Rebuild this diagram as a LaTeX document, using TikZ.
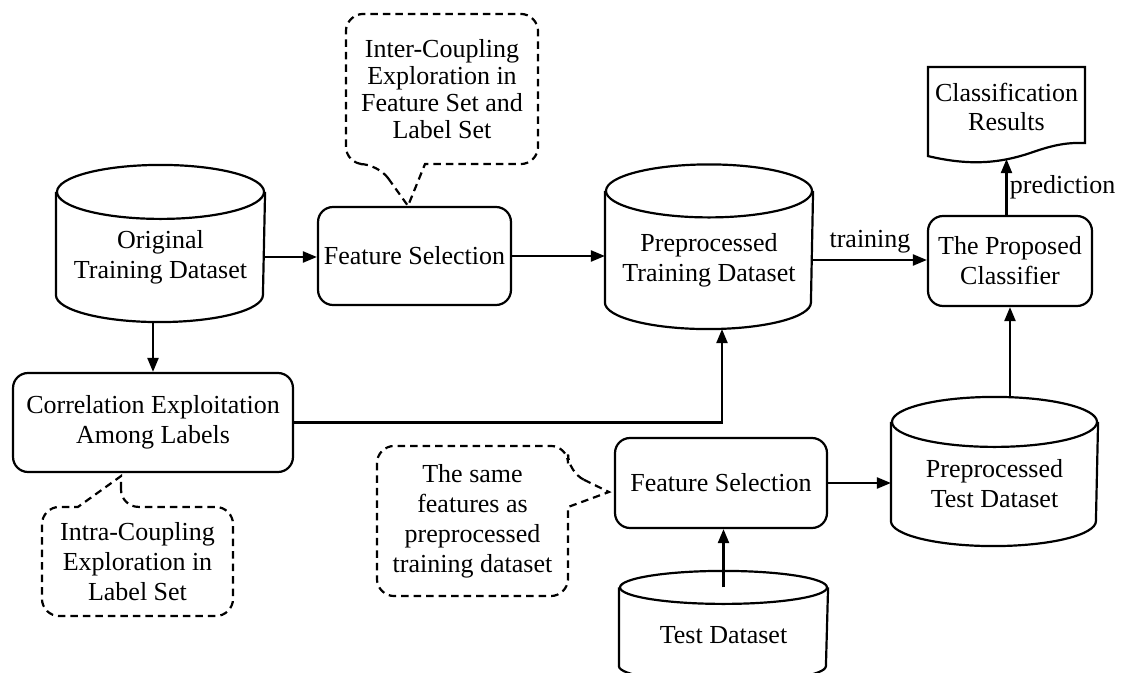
\documentclass[tikz,border=0pt]{standalone}
\usepackage{fontspec}
\setmainfont{Liberation Serif}
\usetikzlibrary{arrows.meta,calc}

% cylinder around a named node: name, x radius, y radius
\newcommand{\dbcyl}[3]{%
  \draw (#1.north west) -- ($(#1.south west)+(0,#3)$)
    arc[start angle=180,end angle=360,x radius=#2,y radius=#3]
    -- (#1.north east);
  \draw (#1.north) ellipse[x radius=#2,y radius=#3];
}

\begin{document}
\begin{tikzpicture}[x=0.02cm,y=0.02cm,line width=1.25pt,
  every node/.style={font=\fontsize{14.8}{17}\selectfont},
  box/.style={draw,rounded corners=0.3cm,align=center},
  db/.style={align=center},
  note/.style={align=center},
  bubble/.style={dash pattern=on 0.15cm off 0.1cm},
  arr/.style={-{Triangle[length=0.28cm,width=0.22cm]}}]
  \useasboundingbox (0,0) rectangle (1123,673);
  \clip (0,0) rectangle (1123,673);
  % Databaser
  \node[db,minimum width=4.14cm,minimum height=2.56cm] (orig) at (160.5,416) {Original\\Training Dataset};
  \node[db,minimum width=4.12cm,minimum height=2.72cm] (ptrain) at (709,413) {Preprocessed\\Training Dataset};
  \node[db,minimum width=4.1cm,minimum height=2.44cm] (ptest) at (994.5,189) {Preprocessed\\Test Dataset};
  \node[db,minimum width=4.14cm,minimum height=1.86cm] (test) at (723.5,38) {Test Dataset};
  \dbcyl{orig}{103.5}{27}
  \dbcyl{ptrain}{103}{26.5}
  \dbcyl{ptest}{102.5}{25}
  \dbcyl{test}{103.5}{16.5}
  % Boxar
  \node[box,minimum width=3.38cm,minimum height=1.96cm] (fs1) at (414.5,417) {Feature Selection};
  \node[box,minimum width=3.28cm,minimum height=1.8cm] (clf) at (1010,412) {The Proposed\\Classifier};
  \node[box,minimum width=5.6cm,minimum height=1.98cm] (corr) at (153,250.5) {Correlation Exploitation\\Among Labels};
  \node[box,minimum width=4.24cm,minimum height=1.8cm] (fs2) at (721,190) {Feature Selection};
  % Dokument
  \node[align=center,minimum width=3.06cm,minimum height=1.56cm] (doc) at (1006.5,566) {Classification\\Results};
  \draw (doc.north west) -- (doc.north east) -- ($(doc.south east)+(0,4)$)
    .. controls ($(doc.south)+(58.5,5)$) and ($(doc.south)+(43.5,1)$) .. ($(doc.south)+(23.5,-6)$)
    .. controls ($(doc.south)+(-6.5,-16)$) and ($(doc.south)+(-36.5,-19)$) .. ($(doc.south west)+(0,-9)$)
    -- cycle;
  \coordinate (docb) at ($(doc.south)+(0,-12)$);
  \coordinate (ptop) at ($(ptest.north)+(0,25)$);
  % Pilar
  \draw[arr] (orig.east) -- (orig.east -| fs1.west);
  \draw[arr] (fs1.east) -- (fs1.east -| ptrain.west);
  \draw[arr] (ptrain.east) -- node[above] {training} (ptrain.east -| clf.west);
  \draw[arr] (clf.north -| docb) -- node[right,xshift=-2pt] {prediction} (docb);
  \draw[arr] (orig.south -| corr.north) -- (corr.north);
  \draw[arr] (corr.east) -| ($(ptrain.south)+(13,0)$);
  \draw[arr] (fs2.east) -- (fs2.east -| ptest.west);
  \draw[arr] (ptop -| clf.south) -- (clf.south);
  \draw[arr] (test.north) -- (test.north |- fs2.south);
  % Pratbubblor
  \node[note,minimum width=3.8cm,minimum height=2.96cm,font=\fontsize{14.8}{15.5}\selectfont] (call1) at (442,584)
    {Inter-Coupling\\Exploration in\\Feature Set and\\Label Set};
  \draw[bubble] ($(call1.south)+(-64,0)$) -- ($(fs1.north)+(-6.5,0)$) -- ($(call1.south)+(-17,0)$)
    [rounded corners=0.35cm] -- (call1.south east) -- (call1.north east) -- (call1.north west)
    -- (call1.south west) -- cycle;
  \node[note,minimum width=3.78cm,minimum height=2.14cm] (call2) at (137.5,111.5)
    {Intra-Coupling\\Exploration in\\Label Set};
  \draw[bubble] ($(call2.north)+(-16.5,0)$) -- ($(corr.south)+(-32,-3)$) -- ($(call2.north)+(-59.5,0)$)
    [rounded corners=0.35cm] -- (call2.north west) -- (call2.south west) -- (call2.south east)
    -- (call2.north east) -- cycle;
  \node[note,minimum width=3.78cm,minimum height=2.96cm] (call3) at (472.5,152)
    {The same\\features as\\preprocessed\\training dataset};
  \draw[bubble] ($(call3.east)+(0,49)$) -- ($(fs2.west)+(-5,-9)$) -- ($(call3.east)+(0,14)$)
    [rounded corners=0.35cm] -- (call3.south east) -- (call3.south west) -- (call3.north west)
    -- (call3.north east) -- cycle;
\end{tikzpicture}
\end{document}
